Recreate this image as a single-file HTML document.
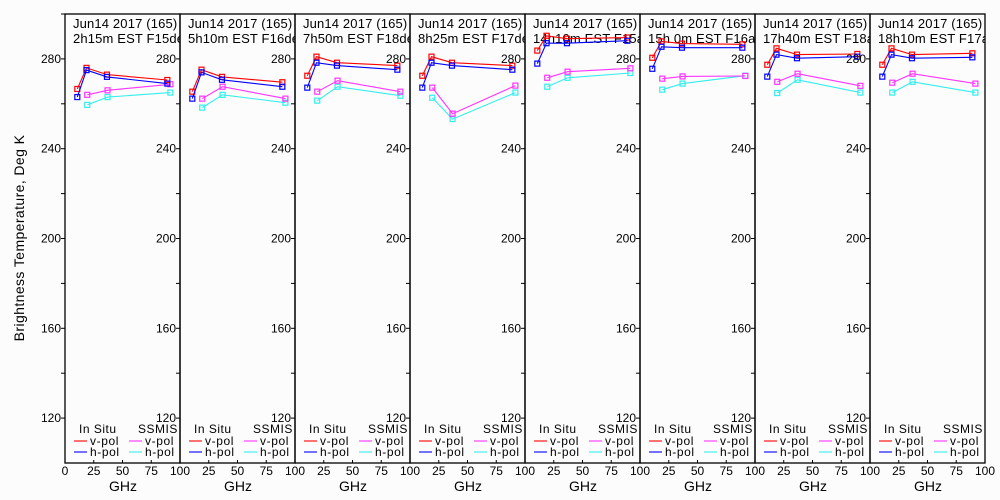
<!DOCTYPE html>
<html><head><meta charset="utf-8">
<style>
html,body{margin:0;padding:0;background:#fcfcfc;}
svg{display:block;font-family:"Liberation Sans",sans-serif;}
</style></head>
<body>
<svg id="chart" width="1000" height="500" viewBox="0 0 1000 500" xmlns="http://www.w3.org/2000/svg">
<rect x="0" y="0" width="1000" height="500" fill="#fcfcfc"/>
<defs id="defs"></defs>
<text x="24" y="238" font-size="14" letter-spacing="0.4" text-anchor="middle" transform="rotate(-90 24 238)">Brightness Temperature, Deg K</text>
</svg>
<script>
const titles1 = ["Jun14 2017 (165)","Jun14 2017 (165)","Jun14 2017 (165)","Jun14 2017 (165)","Jun14 2017 (165)","Jun14 2017 (165)","Jun14 2017 (165)","Jun14 2017 (165)"];
const titles2 = ["2h15m EST F15des","5h10m EST F16des","7h50m EST F18des","8h25m EST F17des","14h10m EST F15asc","15h 0m EST F16asc","17h40m EST F18asc","18h10m EST F17asc"];
const insituFreq = [10.7, 18.7, 36.5, 89];
const ssmisFreq = [19.35, 37, 91.65];
const insituV = [[266.6,276,273,270.6],[265.4,275.2,272,269.6],[272.5,281,278.3,277],[272.5,281,278.3,277],[283.7,290.3,289,289.5],[280.5,287.8,286.8,286.5],[277.4,284.7,281.9,282.2],[277.4,284.7,281.9,282.5]];
const insituH = [[263,275,272,269],[262.3,274,270.7,267.6],[267.2,278.3,277,275.2],[267.2,278.3,277,275.2],[277.9,287,287,288.1],[275.6,285.4,285,285],[272.1,281.9,280.3,281],[272.1,281.9,280.3,280.7]];
const ssmisV = [[264,266,268.7],[262.3,267.6,262.3],[265.4,270.3,265.4],[267.2,255.6,268.1],[271.6,274.3,275.8],[271.2,272.2,272.4],[269.8,273.4,268],[269.4,273.4,269]];
const ssmisH = [[259.5,263,265],[258.3,264,260.5],[261.4,267.6,263.6],[262.7,253.2,265],[267.6,271.6,273.7],[266.3,269,272.5],[264.8,270.7,265],[265,269.8,265]];
const yTickLabels = [120,160,200,240,280];
const xTickLabels = [0,25,50,75,100];

const NS="http://www.w3.org/2000/svg";
const svg=document.getElementById('chart');
const defs=document.getElementById('defs');
const PL=65, PW=115, TOP=14, BOT=463, YMIN=100, YMAX=300;
function yS(v){return BOT-(v-YMIN)*(BOT-TOP)/(YMAX-YMIN);}
function xS(p,f){return PL+p*PW+f*PW/100;}
function mk(tag,attrs,parent){const e=document.createElementNS(NS,tag);for(const k in attrs)e.setAttribute(k,attrs[k]);(parent||svg).appendChild(e);return e;}
function txt(s,x,y,size,anchor,parent){const t=mk('text',{x:x,y:y,'font-size':size,'text-anchor':anchor||'start',fill:'#000'},parent);t.textContent=s;return t;}

const colors={iv:'#ff0000',ih:'#0000ff',sv:'#ff33ff',sh:'#33eeee'};
for(let p=0;p<8;p++){
  const g=mk('g',{});
  
  
  const x0=PL+p*PW;
  const cp=mk('clipPath',{id:'clip'+p},defs);
  mk('rect',{x:x0,y:TOP,width:PW,height:BOT-TOP},cp);
  const fr=mk('rect',{x:x0,y:TOP,width:PW,height:BOT-TOP,fill:'none',stroke:'#000','stroke-width':1.3},g);
  
  
  for(let v=120;v<=300;v+=20){
    mk('line',{x1:x0-4,x2:x0,y1:yS(v),y2:yS(v),stroke:'#000','stroke-width':1},g);
  }
  yTickLabels.forEach(v=>{
    const t=txt(String(v),x0-4,yS(v)+4,12,'end',g);
    
    
  });
  xTickLabels.forEach((v,i)=>{
    if(p>0&&i==0)return;
    mk('line',{x1:xS(p,v),x2:xS(p,v),y1:BOT,y2:BOT-3,stroke:'#000'},g);
    const t=txt(String(v),xS(p,v),475,12,'middle',g);
    
    
  });
  const gx=txt('GHz',x0+58,491,14,'middle',g);
  
  
  const tg=mk('g',{'clip-path':'url(#clip'+p+')'},g);
  const t1=txt(titles1[p],x0+8,28,13,'start',tg);
  t1.setAttribute('letter-spacing','0.15');
  
  
  const t2=txt(titles2[p],x0+8,43,13,'start',tg);
  t2.setAttribute('letter-spacing','0.15');
  
  
  const series=[[ssmisFreq,ssmisH[p],colors.sh,'ssmis-h-pol'],[ssmisFreq,ssmisV[p],colors.sv,'ssmis-v-pol'],[insituFreq,insituV[p],colors.iv,'insitu-v-pol'],[insituFreq,insituH[p],colors.ih,'insitu-h-pol']];
  series.forEach(([fx,vals,c,name])=>{
    const pts=vals.map((v,i)=>xS(p,fx[i]).toFixed(1)+','+yS(v).toFixed(1)).join(' ');
    const pl=mk('polyline',{points:pts,fill:'none',stroke:c,'stroke-width':1.1},g);
    
    
    vals.forEach((v,i)=>{
      const r=mk('rect',{x:xS(p,fx[i])-2.5,y:yS(v)-2.5,width:5,height:5,fill:'none',stroke:c,'stroke-width':1.2},g);
      
      
    });
  });
  const lg=mk('g',{},g);
  
  
  txt('In Situ',x0+14,433,12,'start',lg).setAttribute('letter-spacing','0.5');
  txt('SSMIS',x0+73,433,12,'start',lg).setAttribute('letter-spacing','0.5');
  [[colors.iv,'v-pol',x0+9,445],[colors.ih,'h-pol',x0+9,456],[colors.sv,'v-pol',x0+64,445],[colors.sh,'h-pol',x0+64,456]].forEach(([c,l,lx,ly])=>{
    const ln=mk('line',{x1:lx,x2:lx+13,y1:ly-4,y2:ly-4,stroke:c,'stroke-width':1.1},lg);
    
    
    txt(l,lx+16,ly,12,'start',lg).setAttribute('letter-spacing','0.6');
  });
}
</script>
</body></html>
